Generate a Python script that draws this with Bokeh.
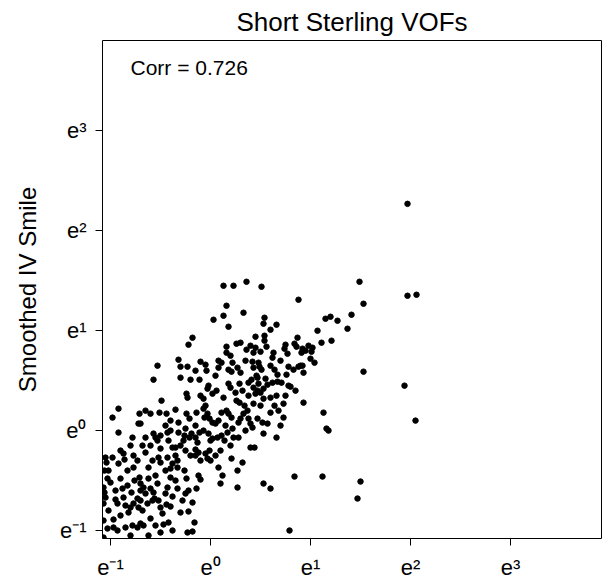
from bokeh.plotting import figure
from bokeh.models import FixedTicker, Label, ColumnDataSource
from bokeh.embed import file_html
from bokeh.resources import INLINE

# natural-log values (x: VOF, y: smoothed IV smile)
log_vof = [
    1.94, 0.93, 1.13, 0.73, 2.05, 1.16, 1.18, 0.84, 1.12, 1.50, 1.47, 0.79, 0.78,
    1.97, 1.49, 1.97, 2.06, 1.53, 1.41, 1.15, 1.20, 1.27, 1.37, 1.07, 1.21, 1.11,
    0.92, 0.95, 0.98, 1.02, 1.01, 1.00, 1.04, 0.92, 0.93, 1.53,
    0.13, 0.23, 0.36, 0.51, 0.88, 0.16, 0.03, 0.13, 0.33, 0.54, 0.53, 0.66, 0.60,
    0.18, -0.18, -0.22, 0.45, 0.54, 0.54, 0.87, 0.26, 0.30, 0.16, 0.36, 0.45, 0.43,
    0.50, 0.56, 0.63, 0.62, 0.75, 0.74, 0.77, 0.84, 0.86, 0.91, 0.16, -0.53, -0.32,
    -0.30, -0.23, -0.10, -0.05, -0.04, 0.08, 0.11, 0.08, 0.18, 0.21, 0.22, 0.27,
    0.42, 0.48, 0.43, 0.49, 0.51, 0.46, 0.41, 0.64, 0.67, 0.76, 0.78, 0.83, 0.90,
    -0.30, -0.20, -0.11, -0.57,
    -0.24, -0.23, -0.02, -0.03, 0.06, 0.02, -0.10, -0.07, 0.18, 0.20, 0.29, 0.38,
    0.47, 0.48, 0.43, 0.47, 0.50, 0.45, 0.53, 0.57, 0.62, 0.67, 0.71, 0.80, 0.88,
    0.13, 0.26, 0.29, 0.34, 0.43, 0.53, 0.60, 0.66, 0.64, 0.73,
    -0.49, -0.65, -0.71, -0.60, -0.70, -0.68, -0.65, -0.51, -0.44, -0.40, -0.35,
    -0.32, -0.24, -0.21, -0.14, -0.07, -0.06, -0.03, -0.01, 0.02, 0.05, 0.08, 0.11,
    0.16, 0.18, 0.21, 0.28, 0.33, 0.37, 0.40, 0.47, 0.52, 0.57, 0.60, 0.68,
    -0.98, -0.92, -0.92, -0.78, -0.72, -0.57, -0.55, -0.53, -0.50, -0.43, -0.40,
    -0.38, -0.35, -0.30, -0.27, -0.26, -0.21, -0.19, -0.15, -0.13, -0.11, -0.07,
    -0.02, 0.02, 0.07, 0.11, 0.14, 0.17, 0.20, 0.23, 0.28, 0.40, 0.44, 0.42, 0.66,
    0.53,
    -1.05, -0.98, -1.02, -1.03, -0.92, -0.87, -0.86, -0.77, -0.77, -0.73, -0.71,
    -0.65, -0.62, -0.58, -0.55, -0.52, -0.50, -0.43, -0.40, -0.38, -0.40, -0.33,
    -0.33, -0.26, -0.24, -0.20, -0.15, -0.15, -0.12, -0.10, -0.05, -0.03, -0.01,
    0.00, -0.12, -0.10, 0.08, 0.12, 0.21, 0.27, 0.32,
    -1.07, -1.06, -1.05, -1.07, -0.95, -0.93, -0.88, -0.87, -0.85, -0.82, -0.80,
    -0.77, -0.73, -0.70, -0.70, -0.70, -0.72, -0.67, -0.65, -0.68, -0.63, -0.58,
    -0.57, -0.53, -0.52, -0.50, -0.45, -0.43, -0.40, -0.33, -0.25, -0.30, -0.22,
    0.27, 0.10, 0.53, 0.60,
    -1.07, -1.03, -1.07, -0.97, -0.97, -0.85, -0.78, -0.73, -0.70, -0.67, -0.50,
    -0.47, -0.23, -0.18, -0.16,
    -1.06, -1.04, -1.00, -0.95, -0.90, -0.83, -0.79, -0.76, -0.62, -0.60, -0.56,
    -0.48, -0.44, -0.38, -0.35, -0.28, -0.22, -0.18, -0.14, -0.60, -0.55, -0.42,
    -0.38, -0.90, -0.93, -1.02, -0.80, -0.62,
    -0.05, 0.00, 0.05, 0.10, 0.15, 0.22, 0.30, 0.35, 0.38, 0.25, 0.32, -0.15,
    -0.25, -0.32, -0.45, -0.42, -0.35, -0.25, -0.50, -0.45, -0.60, -0.80, -0.83,
    -0.90,
    0.20, 0.35, 0.40, 0.60, 0.70, 0.30, 0.05, -0.15, 0.55, 0.75, 0.85, 0.50,
    0.38, 0.70,
]
log_iv = [
    0.45, 0.28, 0.18, 0.13, 0.10, 0.02, 0.00, -0.46, -0.46, -0.51, -0.68, -1.00, 0.45,
    2.27, 1.49, 1.35, 1.36, 1.27, 1.16, 1.12, 1.14, 1.10, 1.02, 1.00, 0.90, 0.88,
    0.82, 0.80, 0.85, 0.83, 0.79, 0.72, 0.68, 0.65, 0.58, 0.59,
    1.45, 1.45, 1.49, 1.44, 1.31, 1.25, 1.11, 1.15, 1.18, 1.13, 1.07, 1.06, 1.01,
    1.04, 0.93, 0.86, 0.94, 0.95, 0.90, 0.93, 0.87, 0.88, 0.84, 0.81, 0.83, 0.78,
    0.79, 0.84, 0.78, 0.73, 0.86, 0.82, 0.77, 0.87, 0.84, 0.78, 0.78, 0.65, 0.71,
    0.64, 0.64, 0.69, 0.66, 0.60, 0.70, 0.68, 0.63, 0.61, 0.59, 0.68, 0.63,
    0.69, 0.68, 0.63, 0.64, 0.61, 0.55, 0.51, 0.61, 0.56, 0.56, 0.64, 0.61, 0.65,
    0.53, 0.51, 0.51, 0.51,
    0.37, 0.33, 0.45, 0.42, 0.40, 0.37, 0.35, 0.32, 0.47, 0.43, 0.47, 0.48,
    0.53, 0.47, 0.43, 0.40, 0.38, 0.37, 0.42, 0.46, 0.48, 0.49, 0.48, 0.44, 0.64,
    0.33, 0.30, 0.28, 0.25, 0.27, 0.32, 0.33, 0.35, 0.25, 0.27,
    0.30, 0.20, 0.17, 0.17, 0.07, -0.15, -0.07, 0.18, 0.17, 0.10, 0.21,
    0.08, 0.17, 0.12, 0.18, 0.22, 0.13, 0.17, 0.12, 0.08, 0.07, 0.10, 0.18,
    0.20, 0.17, 0.13, 0.08, 0.17, 0.20, 0.07, 0.12, 0.08, 0.07, 0.18, 0.20,
    0.13, 0.22, -0.02, -0.07, 0.07, -0.03, -0.07, -0.10, -0.05, -0.02, 0.00,
    -0.17, -0.17, -0.15, -0.10, -0.05, -0.07, -0.03, -0.07, -0.12, -0.02, 0.00,
    -0.03, -0.08, -0.07, -0.05, -0.10, -0.02, -0.15, -0.07, -0.07, -0.17, -0.17, 0.03, -0.07,
    -0.03,
    -0.27, -0.27, -0.40, -0.48, -0.33, -0.23, -0.29, -0.25, -0.37, -0.30, -0.47,
    -0.22, -0.37, -0.30, -0.45, -0.27, -0.18, -0.27, -0.38, -0.33, -0.47, -0.30,
    -0.37, -0.40, -0.48, -0.25, -0.19, -0.25, -0.22, -0.30, -0.23, -0.28, -0.20,
    -0.30, -0.45, -0.49, -0.37, -0.45, -0.28, -0.40, -0.32,
    -0.57, -0.62, -0.67, -0.73, -0.69, -0.73, -0.58, -0.67, -0.75, -0.82, -0.77,
    -0.73, -0.68, -0.60, -0.53, -0.70, -0.77, -0.57, -0.63, -0.80, -0.73, -0.70,
    -0.62, -0.53, -0.70, -0.77, -0.63, -0.57, -0.76, -0.58, -0.63, -0.82, -0.81,
    -0.57, -0.53, -0.53, -0.58,
    -0.90, -0.98, -1.07, -0.97, -0.89, -0.97, -0.95, -0.97, -0.93, -0.95, -1.02,
    -0.94, -1.02, -1.01, -0.92,
    -0.40, -0.32, -0.52, -0.60, -0.48, -0.55, -0.62, -0.50, -0.48, -0.58, -0.68,
    -0.83, -0.74, -0.66, -0.50, -0.70, -0.60, -0.72, -0.58, -0.88, -0.95, -0.92,
    -1.00, -0.85, -1.00, -0.80, -1.05, -1.05,
    0.25, -0.10, -0.25, -0.20, 0.05, 0.02, 0.12, 0.00, 0.35, 0.38, 0.40, 0.05,
    0.02, -0.02, 0.05, -0.10, -0.25, -0.20, -0.32, -0.40, -0.15, -0.15, -0.40,
    -0.20,
    0.75, 0.70, 0.85, 0.65, 0.70, 0.58, 0.55, 0.60, 0.52, 0.35, 0.40, 0.25,
    0.12, 0.05,
]

tick_values = [-1, 0, 1, 2, 3]
tick_labels = ["e\u207b\u00b9", "e\u2070", "e\u00b9", "e\u00b2", "e\u00b3"]
corr_text = "Corr = 0.726"
title_text = "Short Sterling VOFs"
y_label = "Smoothed IV Smile"

FONT = "Liberation Sans"

source = ColumnDataSource(data=dict(x=log_vof, y=log_iv))

p = figure(
    frame_width=499, frame_height=498,
    x_range=(-1.08, 3.91), y_range=(-1.08, 3.905),
    output_backend="svg", toolbar_location=None,
    min_border_left=102, min_border_right=7, min_border_top=40, min_border_bottom=40,
    background_fill_color="white", border_fill_color="white",
)
p.title.text = title_text
p.title.align = "center"
p.title.text_font = FONT
p.title.text_font_size = "26px"
p.title.text_font_style = "normal"
p.title.text_color = "black"
p.title.standoff = 7

p.outline_line_color = "black"
p.outline_line_width = 1
p.outline_line_alpha = 1
p.xgrid.visible = False
p.ygrid.visible = False

for ax in (p.xaxis[0], p.yaxis[0]):
    ax.ticker = FixedTicker(ticks=tick_values)
    ax.major_label_overrides = {v: s for v, s in zip(tick_values, tick_labels)}
    ax.axis_line_color = None
    ax.major_tick_out = 7
    ax.major_tick_in = 0
    ax.minor_tick_line_color = None
    ax.major_tick_line_color = "black"
    ax.major_label_text_font = FONT
    ax.major_label_text_font_size = "22px"
    ax.major_label_text_color = "black"

p.xaxis.major_label_standoff = 9
p.yaxis.major_label_standoff = 9
p.yaxis.major_label_orientation = "horizontal"
p.yaxis.axis_label = y_label
p.yaxis.axis_label_text_font = FONT
p.yaxis.axis_label_text_font_size = "24px"
p.yaxis.axis_label_text_font_style = "normal"
p.yaxis.axis_label_text_color = "black"
p.yaxis.axis_label_standoff = 16

p.scatter("x", "y", source=source, size=5.5, color="black", marker="circle")

p.add_layout(Label(x=-0.8, y=3.63, text=corr_text, text_font=FONT,
                   text_font_size="21px", text_baseline="middle", text_color="black"))

open("out.html", "w").write(file_html(p, INLINE))
